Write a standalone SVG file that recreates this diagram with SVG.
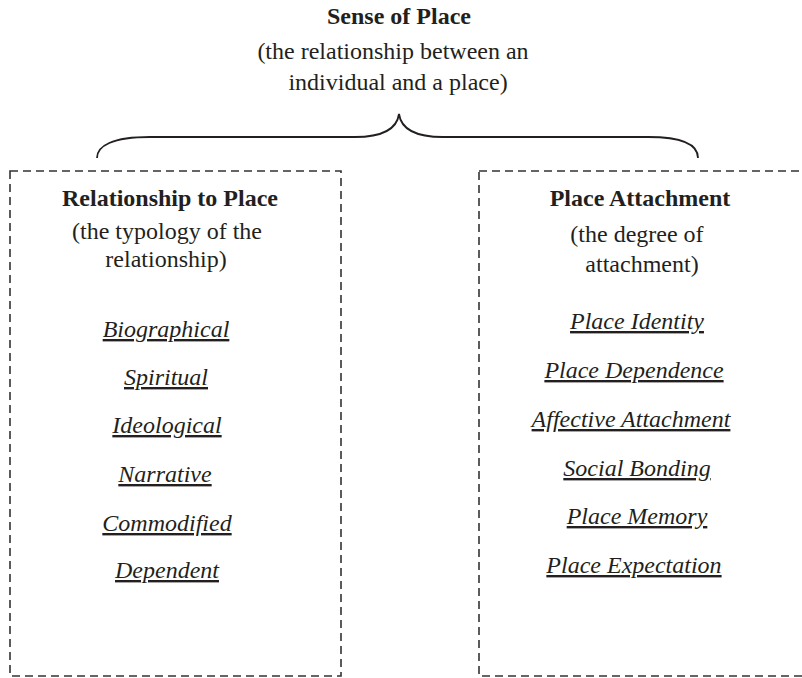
<svg xmlns="http://www.w3.org/2000/svg" width="802" height="678" viewBox="0 0 802 678">
<style>
text{font-family:"Liberation Serif","Times New Roman",serif;font-size:24px;fill:#231f20;text-anchor:middle}
.b{font-weight:bold}
.i{font-style:italic;text-decoration:underline;text-decoration-thickness:2px}
.box{fill:none;stroke:#333;stroke-width:1.6;stroke-dasharray:8 5}
.brace{fill:none;stroke:#231f20;stroke-width:1.8}
</style>
<rect width="802" height="678" fill="#fff"/>
<g id="sense-of-place">
<text class="b" x="399" y="24">Sense of Place</text>
<text x="393" y="59">(the relationship between an</text>
<text x="398" y="90">individual and a place)</text>
</g>
<g id="connectors">
<path class="brace" d="M97,158 C97,146 112,137 150,137 L355,137 C385,137 397,128 399,114 C401,128 413,137 443,137 L648,137 C686,137 698,146 698,158"/>
</g>
<g id="relationship-to-place">
<rect class="box" x="10" y="171" width="331" height="505"/>
<text class="b" x="170" y="206">Relationship to Place</text>
<text x="167" y="239">(the typology of the</text>
<text x="166" y="267">relationship)</text>
<text class="i" x="166" y="337">Biographical</text>
<text class="i" x="166" y="385">Spiritual</text>
<text class="i" x="167" y="433">Ideological</text>
<text class="i" x="165" y="482">Narrative</text>
<text class="i" x="167" y="531">Commodified</text>
<text class="i" x="167" y="578">Dependent</text>
</g>
<g id="place-attachment">
<rect class="box" x="479" y="171" width="325" height="505"/>
<text class="b" x="640" y="206">Place Attachment</text>
<text x="637" y="242">(the degree of</text>
<text x="642" y="272">attachment)</text>
<text class="i" x="637" y="329">Place Identity</text>
<text class="i" x="634" y="378">Place Dependence</text>
<text class="i" x="631" y="427">Affective Attachment</text>
<text class="i" x="637" y="476">Social Bonding</text>
<text class="i" x="637" y="524">Place Memory</text>
<text class="i" x="634" y="573">Place Expectation</text>
</g>
</svg>
